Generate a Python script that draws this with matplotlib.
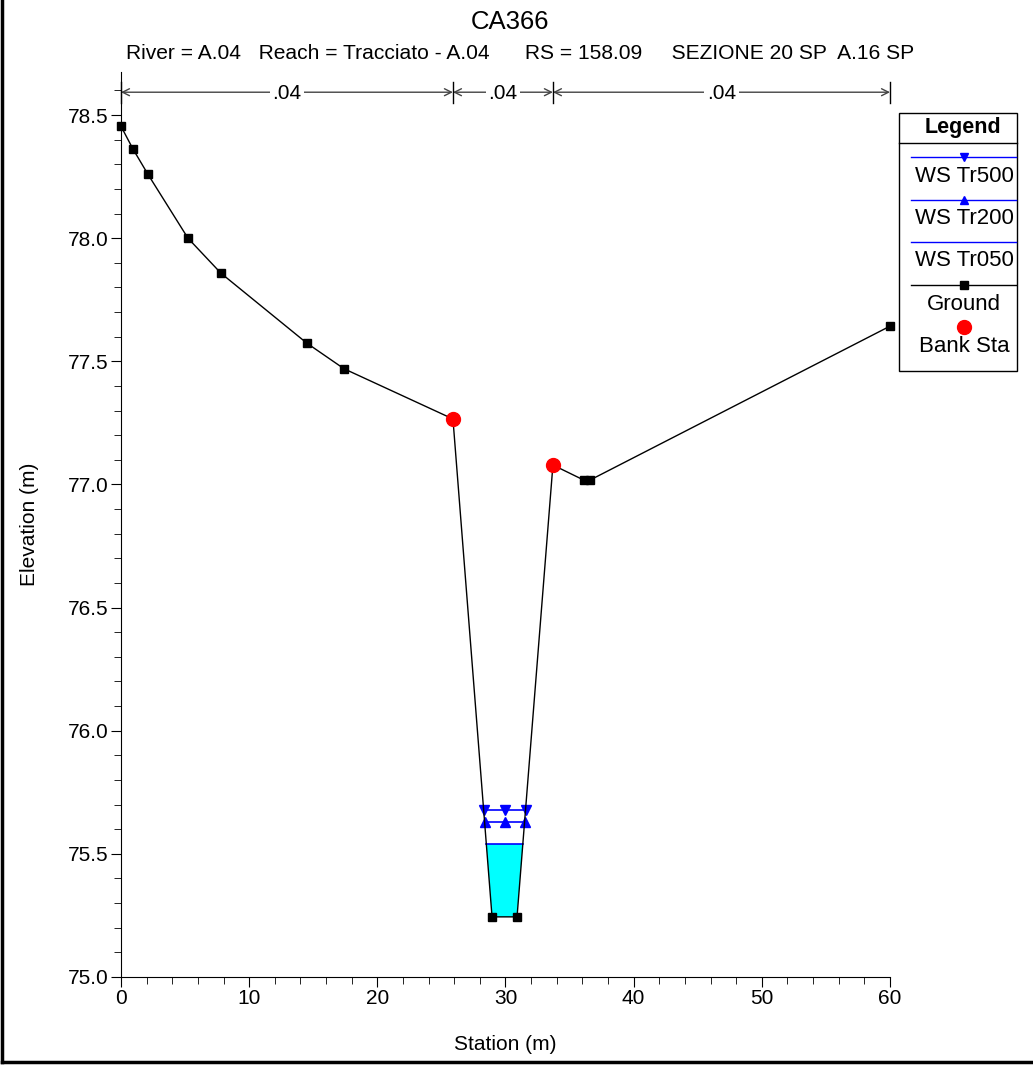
import numpy as np
import matplotlib
matplotlib.use("Agg")
import matplotlib.pyplot as plt
from matplotlib.ticker import MultipleLocator, FormatStrFormatter
from matplotlib.lines import Line2D

plt.rcParams['font.family'] = ['Liberation Sans', 'DejaVu Sans']

# ---- data ----
ground_sta = [0.0, 0.94, 2.1, 5.23, 7.8, 14.5, 17.4, 25.9, 28.95, 30.9, 33.7, 36.1, 36.6, 60.0]
ground_elev = [78.455, 78.362, 78.26, 78.0, 77.858, 77.574, 77.47, 77.266, 75.244, 75.244, 77.079, 77.018, 77.018, 77.643]
bank_sta = [25.9, 33.7]
bank_elev = [77.266, 77.079]
ws_names = ["WS Tr500", "WS Tr200", "WS Tr050"]
ws_elev = [75.68, 75.63, 75.54]
n_bounds = [0.0, 25.9, 33.7, 60.0]
n_values = [".04", ".04", ".04"]

gx = np.array(ground_sta)
gy = np.array(ground_elev)

fig = plt.figure(figsize=(10.33, 10.67), dpi=100)
ax = fig.add_axes([0.1171, 0.0844, 0.8616 - 0.1171, 0.9325 - 0.0844])
ax.set_xlim(0, 60)
ax.set_ylim(75.0, 78.675)

def channel_limits(level):
    imin = int(np.argmin(gy))
    i = imin
    while gy[i] < level:
        i -= 1
    xl = gx[i] + (level - gy[i]) / (gy[i + 1] - gy[i]) * (gx[i + 1] - gx[i])
    j = imin
    while gy[j] < level:
        j += 1
    xr = gx[j - 1] + (level - gy[j - 1]) / (gy[j] - gy[j - 1]) * (gx[j] - gx[j - 1])
    return xl, xr

# water fill for lowest WS
lvl = ws_elev[2]
xl, xr = channel_limits(lvl)
mask = (gx > xl) & (gx < xr)
px = np.concatenate([[xl], gx[mask], [xr]])
py = np.concatenate([[lvl], gy[mask], [lvl]])
ax.fill(px, py, color='#00FFFF', zorder=1, lw=0)
ax.plot([xl, xr], [lvl, lvl], color='blue', lw=1.2, zorder=2)

# WS with markers
for lev, mk in [(ws_elev[0], 'v'), (ws_elev[1], '^')]:
    a, b = channel_limits(lev)
    ax.plot([a, b], [lev, lev], color='blue', lw=1.2, zorder=3)
    ax.plot([a, (a + b) / 2, b], [lev] * 3, ls='none', marker=mk, color='blue', ms=7, zorder=4)

# ground
ax.plot(gx, gy, color='black', lw=1, marker='s', ms=6, zorder=5, clip_on=False)
ax.plot(bank_sta, bank_elev, ls='none', marker='o', color='red', ms=10, zorder=6)

# manning n annotations
yarr = 78.593
for i in range(len(n_bounds)):
    ax.plot([n_bounds[i], n_bounds[i]], [78.549, 78.634], color='black', lw=1, clip_on=False, zorder=7)
for i, nv in enumerate(n_values):
    a, b = n_bounds[i], n_bounds[i + 1]
    ax.annotate('', xy=(a, yarr), xytext=(b, yarr),
                arrowprops=dict(arrowstyle='<->, head_length=0.5, head_width=0.25', color='#444444', lw=1,
                                shrinkA=0, shrinkB=0), annotation_clip=False)
    ax.text((a + b) / 2, yarr - 0.004, nv, ha='center', va='center', fontsize=15,
            bbox=dict(facecolor='white', edgecolor='none', pad=2), zorder=8)

# axes styling
for s in ['top', 'right']:
    ax.spines[s].set_visible(False)
ax.xaxis.set_major_locator(MultipleLocator(10))
ax.xaxis.set_minor_locator(MultipleLocator(2))
ax.yaxis.set_major_locator(MultipleLocator(0.5))
ax.yaxis.set_minor_locator(MultipleLocator(0.1))
ax.yaxis.set_major_formatter(FormatStrFormatter('%.1f'))
ax.tick_params(which='major', length=7, labelsize=15, direction='out', pad=2)
ax.tick_params(which='minor', length=5)
ax.set_xlabel('Station (m)', fontsize=15, labelpad=19)
ax.set_ylabel('Elevation (m)', fontsize=15, labelpad=21)

fig.text(0.4937, 1 - 22 / 1067, 'CA366', ha='center', va='center', fontsize=18.5)
fig.text(520 / 1033, 1 - 54 / 1067,
         'River = A.04   Reach = Tracciato - A.04      RS = 158.09     SEZIONE 20 SP  A.16 SP',
         ha='center', va='center', fontsize=15.1)

# legend box (custom)
W, H = 1033, 1067
def fx(x): return x / W
def fy(y): return 1 - y / H
fig.patches.append(plt.Rectangle((fx(899), fy(371)), fx(1017) - fx(899), fy(113) - fy(371),
                                 transform=fig.transFigure, fill=False, ec='black', lw=1))
fig.lines.append(Line2D([fx(899), fx(1017)], [fy(143), fy(143)], transform=fig.transFigure, color='black', lw=1))
fig.text(fx(963), fy(127), 'Legend', ha='center', va='center', fontsize=15.5, fontweight='bold')
entries = [('WS Tr500', 'blue', 'v', 157, 176),
           ('WS Tr200', 'blue', '^', 200, 218),
           ('WS Tr050', 'blue', None, 242, 260),
           ('Ground', 'black', 's', 285, 304)]
for name, col, mk, ly, ty in entries:
    fig.lines.append(Line2D([fx(911), fx(1016)], [fy(ly), fy(ly)], transform=fig.transFigure,
                            color=col, lw=1))
    if mk:
        fig.lines.append(Line2D([fx(964)], [fy(ly)], transform=fig.transFigure, ls='none',
                                marker=mk, color=col, ms=6))
    fig.text(fx(964), fy(ty), name, ha='center', va='center', fontsize=16)
fig.lines.append(Line2D([fx(964)], [fy(327)], transform=fig.transFigure, ls='none', marker='o', color='red', ms=10))
fig.text(fx(964), fy(346), 'Bank Sta', ha='center', va='center', fontsize=16)

# figure frame lines (left and bottom)
fig.lines.append(Line2D([fx(2), fx(2)], [fy(0), fy(1062)], transform=fig.transFigure, color='black', lw=2.5))
fig.lines.append(Line2D([fx(2), fx(1033)], [fy(1062), fy(1062)], transform=fig.transFigure, color='black', lw=2.5))

fig.savefig('out.png', dpi=100)
